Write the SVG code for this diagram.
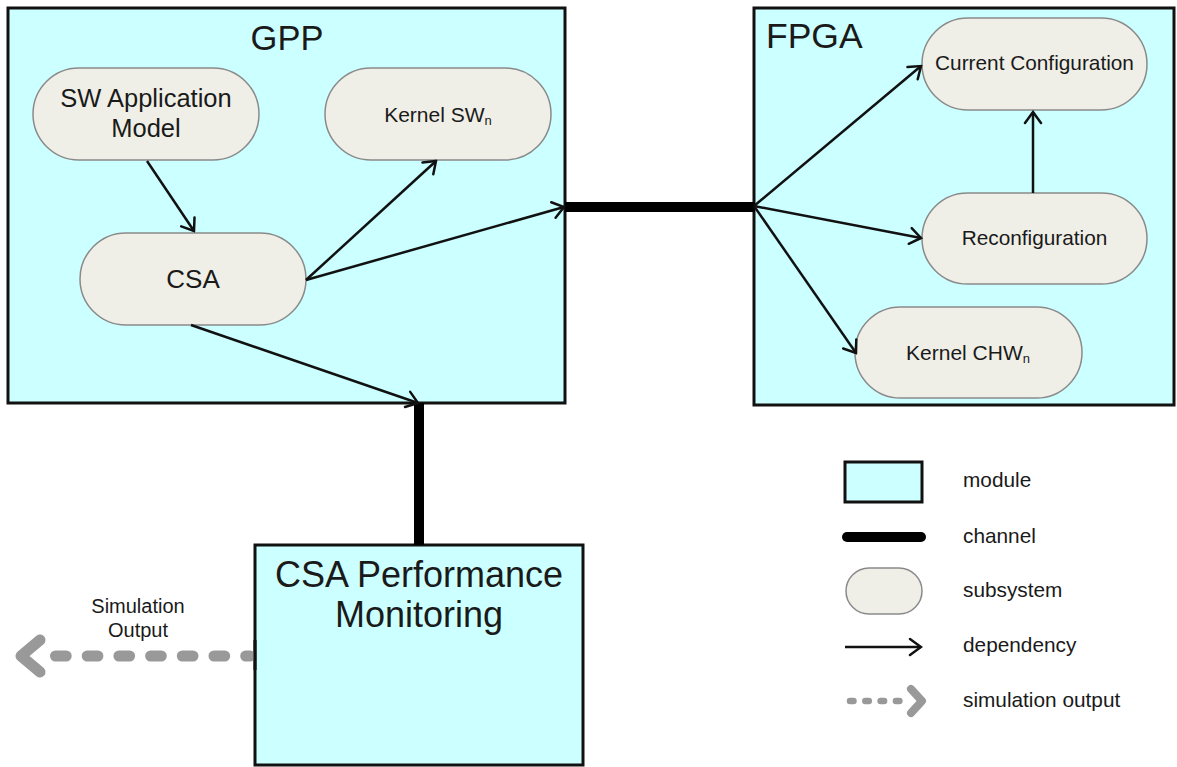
<svg xmlns="http://www.w3.org/2000/svg" width="1177" height="767" viewBox="0 0 1177 767">
<style>
.module{fill:#ccffff;stroke:#111;stroke-width:3}
.pill{fill:#efefe7;stroke:#8a8a8a;stroke-width:1.5}
.t{font-family:"Liberation Sans",Arial,sans-serif;fill:#1a1a1a}
.dep{fill:none;stroke:#111;stroke-width:2.5;marker-end:url(#arr)}
.chan{stroke:#000;stroke-width:10;fill:none}
.sim{stroke:#999;fill:none;stroke-linecap:round;stroke-linejoin:round}
</style>
<defs>
<marker id="arr" markerUnits="userSpaceOnUse" viewBox="-14 -10 16 20" refX="0" refY="0" markerWidth="16" markerHeight="20" orient="auto">
<path d="M-11,-8 L0,0 L-11,8" fill="none" stroke="#111" stroke-width="2.5" stroke-linecap="round" stroke-linejoin="miter"/>
</marker>
</defs>
<rect width="1177" height="767" fill="#fff"/>

<g id="gpp">
<rect class="module" x="8" y="8" width="557" height="395"/>
<text class="t" x="287" y="50" font-size="34.5" text-anchor="middle">GPP</text>
</g>
<g id="fpga">
<rect class="module" x="754" y="8" width="420" height="397"/>
<text class="t" x="766" y="48" font-size="35.5">FPGA</text>
</g>
<g id="monitor">
<rect class="module" x="255" y="545" width="328" height="220"/>
<text class="t" x="419" y="587" font-size="36" text-anchor="middle">CSA Performance</text>
<text class="t" x="419" y="627" font-size="36" text-anchor="middle">Monitoring</text>
</g>

<g id="swapp">
<rect class="pill" x="33" y="68" width="226" height="92" rx="46"/>
<text class="t" x="146" y="107" font-size="25.5" text-anchor="middle">SW Application</text>
<text class="t" x="146" y="137" font-size="25.5" text-anchor="middle">Model</text>
</g>
<g id="kernelsw">
<rect class="pill" x="325" y="68" width="226" height="92" rx="46"/>
<text class="t" x="438" y="122" font-size="21" text-anchor="middle">Kernel SW<tspan font-size="13" dy="3">n</tspan></text>
</g>
<g id="csa">
<rect class="pill" x="80" y="233" width="226" height="92" rx="46"/>
<text class="t" x="193" y="288" font-size="26" text-anchor="middle">CSA</text>
</g>
<g id="curconf">
<rect class="pill" x="922" y="18" width="225" height="92" rx="46"/>
<text class="t" x="1034.5" y="70" font-size="20.8" text-anchor="middle">Current Configuration</text>
</g>
<g id="reconf">
<rect class="pill" x="922" y="193" width="225" height="91" rx="45.5"/>
<text class="t" x="1034.5" y="245" font-size="20.8" text-anchor="middle">Reconfiguration</text>
</g>
<g id="kernelchw">
<rect class="pill" x="855" y="307" width="227" height="91" rx="45.5"/>
<text class="t" x="968" y="360" font-size="21" text-anchor="middle">Kernel CHW<tspan font-size="13" dy="3">n</tspan></text>
</g>

<g id="connectors">
<line class="chan" x1="565" y1="207" x2="755" y2="207"/>
<line class="chan" x1="419" y1="403" x2="419" y2="545" stroke-width="9"/>
<line class="dep" x1="147" y1="161" x2="194" y2="231"/>
<line class="dep" x1="306" y1="280" x2="436" y2="161"/>
<line class="dep" x1="306" y1="280" x2="564" y2="207"/>
<line class="dep" x1="191" y1="325" x2="418" y2="403"/>
<line class="dep" x1="754" y1="206" x2="921" y2="66"/>
<line class="dep" x1="754" y1="206" x2="921" y2="238"/>
<line class="dep" x1="754" y1="206" x2="856" y2="353"/>
<line class="dep" x1="1033" y1="193" x2="1033" y2="112"/>
<line class="sim" x1="55.5" y1="656" x2="250" y2="656" stroke-width="11" stroke-dasharray="10.7 21"/>
<polyline class="sim" points="40,640 21,656 40,672" stroke-width="11"/>
</g>
<rect x="253.5" y="640" width="3" height="30" fill="#111"/>

<g id="simlabel">
<text class="t" x="138" y="613" font-size="20" text-anchor="middle">Simulation</text>
<text class="t" x="138" y="637" font-size="20" text-anchor="middle">Output</text>
</g>

<g id="legend">
<rect class="module" x="845" y="462" width="77" height="40"/>
<line x1="847" y1="537" x2="921" y2="537" stroke="#000" stroke-width="10" stroke-linecap="round"/>
<rect class="pill" x="846" y="568" width="76" height="46" rx="23"/>
<line class="dep" x1="845" y1="647" x2="921" y2="647"/>
<line class="sim" x1="850" y1="701" x2="900" y2="701" stroke-width="6.5" stroke-dasharray="3.5 11.8"/>
<polyline class="sim" points="911,689 922,701 911,713" stroke-width="8"/>
<text class="t" x="963" y="487" font-size="20.8">module</text>
<text class="t" x="963" y="543" font-size="20.8">channel</text>
<text class="t" x="963" y="597" font-size="20.8">subsystem</text>
<text class="t" x="963" y="652" font-size="20.8">dependency</text>
<text class="t" x="963" y="707" font-size="20.8">simulation output</text>
</g>
</svg>
